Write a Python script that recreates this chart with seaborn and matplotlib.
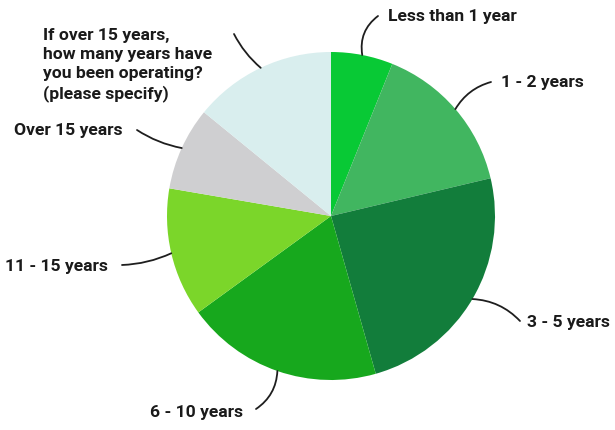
import numpy as np
import matplotlib
matplotlib.use("Agg")
import matplotlib.pyplot as plt
import seaborn as sns

# Share of respondents by how long they have been operating (percent)
categories = [
    "Less than 1 year",
    "1 - 2 years",
    "3 - 5 years",
    "6 - 10 years",
    "11 - 15 years",
    "Over 15 years",
    "If over 15 years,\nhow many years have\nyou been operating?\n(please specify)",
]
shares = [6.1, 15.2, 24.3, 19.4, 12.7, 8.2, 14.1]
colors = ["#08c935", "#41b660", "#127d3b", "#17a81d", "#7bd62a", "#cfcfd1", "#d9eeee"]

# Label text placement (figure pixels from top-left), alignment,
# leader start point and leader curvature
label_xy = [(388, 17), (501, 83), (527, 323), (243, 412), (108, 266), (123, 131), (43, 65)]
label_ha = ["left", "left", "left", "right", "right", "right", "left"]
leader_start = [(378, 16), (491, 82), (520, 321), (256, 409), (122, 265), (137, 130), (234, 34)]
leader_rad = [0.3, 0.2, 0.2, 0.25, 0.1, 0.1, 0.1]

sns.set_theme(style="white")
plt.rcParams["font.family"] = ["Roboto", "DejaVu Sans"]

W, H = 615, 430
fig = plt.figure(figsize=(W / 100, H / 100), dpi=100)
fig.patch.set_facecolor("white")

cx, cy, r = 331, 216, 164
ax = fig.add_axes([(cx - r) / W, (H - cy - r) / H, 2 * r / W, 2 * r / H])
wedges, _ = ax.pie(
    shares,
    colors=colors,
    startangle=90,
    counterclock=False,
    radius=1.0,
    wedgeprops=dict(linewidth=0),
)
ax.set_xlim(-1, 1)
ax.set_ylim(-1, 1)
ax.set_aspect("equal")
ax.axis("off")

for w, lab, (tx, ty), ha, (sx, sy), rad in zip(
    wedges, categories, label_xy, label_ha, leader_start, leader_rad
):
    mid = np.deg2rad((w.theta1 + w.theta2) / 2)
    px, py = np.cos(mid), np.sin(mid)
    ax.annotate(
        "",
        xy=(px, py),
        xycoords="data",
        xytext=(sx, H - sy),
        textcoords="figure pixels",
        arrowprops=dict(
            arrowstyle="-",
            color="#1e1e1e",
            lw=1.3,
            shrinkA=0,
            shrinkB=0,
            connectionstyle=f"arc3,rad={rad}",
        ),
    )
    fig.text(
        tx / W,
        1 - ty / H,
        lab,
        ha=ha,
        va="center",
        fontsize=12.6,
        fontweight="semibold",
        color="#1a1a1a",
        linespacing=1.3,
    )

fig.savefig("out.png", dpi=100, facecolor="white")
